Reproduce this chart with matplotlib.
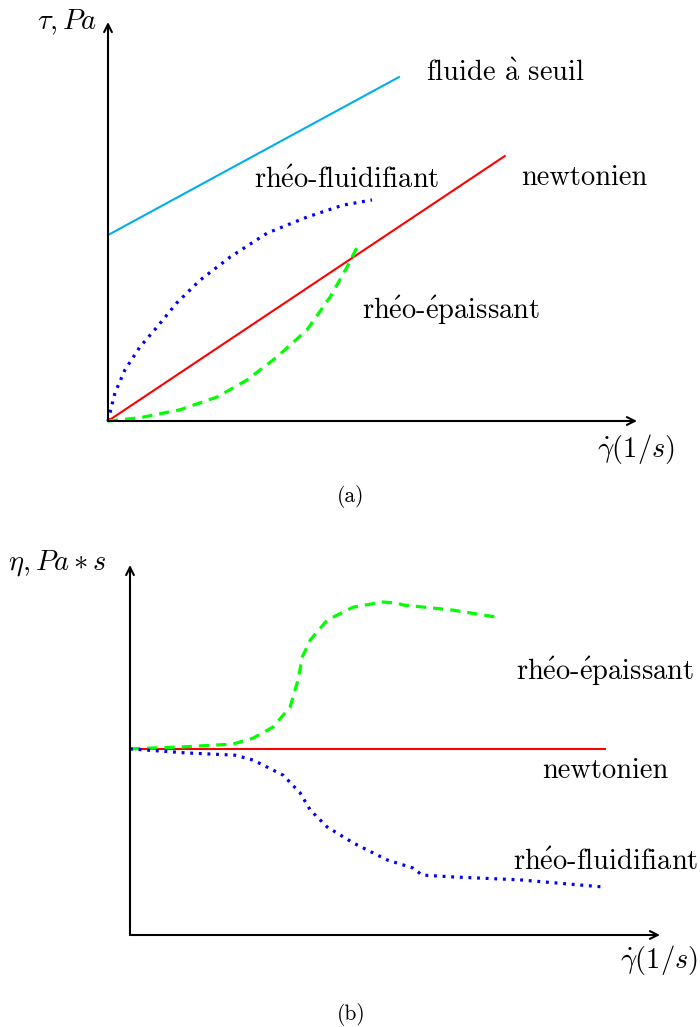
import matplotlib.pyplot as plt

plt.rcParams['mathtext.fontset'] = 'cm'
plt.rcParams['font.family'] = 'cmr10'
plt.rcParams['axes.unicode_minus'] = False

# (a) shear stress vs shear rate, arbitrary units (axes span 0..10)
seuil_x = [0.0, 5.50]
seuil_y = [4.66, 8.62]
newt_a_x = [0.0, 7.50]
newt_a_y = [0.0, 6.64]
fluid_a_x = [0.0, 0.13, 0.32, 0.60, 0.93, 1.30, 1.74, 2.31, 3.01, 3.76, 4.44, 4.99]
fluid_a_y = [0.0, 0.70, 1.28, 1.85, 2.36, 2.96, 3.53, 4.11, 4.71, 5.11, 5.41, 5.54]
epais_a_x = [0.0, 0.60, 1.36, 2.06, 2.63, 3.19, 3.76, 4.20, 4.52, 4.71]
epais_a_y = [0.0, 0.08, 0.28, 0.60, 1.03, 1.60, 2.28, 3.11, 3.86, 4.36]

# (b) viscosity vs shear rate
newt_b_x = [0.0, 8.96]
newt_b_y = [5.03, 5.03]
epais_b_x = [0.0, 0.94, 1.94, 2.32, 2.70, 3.02, 3.17, 3.25, 3.40, 3.72, 4.21, 4.77, 5.04, 5.15, 6.09, 6.92]
epais_b_y = [5.03, 5.08, 5.16, 5.32, 5.62, 6.16, 6.89, 7.51, 7.97, 8.51, 8.86, 9.00, 8.97, 8.92, 8.78, 8.59]
fluid_b_x = [0.0, 1.08, 1.98, 2.32, 2.89, 3.21, 3.40, 3.72, 4.21, 4.85, 5.34, 5.51, 6.09, 7.36, 8.91]
fluid_b_y = [5.03, 4.92, 4.86, 4.73, 4.32, 3.84, 3.38, 2.92, 2.49, 2.03, 1.81, 1.62, 1.57, 1.49, 1.30]

W, H = 700, 1027
fig = plt.figure(figsize=(7, 10.27), dpi=100)

def px(x, y):
    return x / W, 1 - y / H

def make_axes(rect):
    ax = fig.add_axes(rect)
    ax.set_xlim(0, 10)
    ax.set_ylim(0, 10)
    ax.axis('off')
    arrow = dict(arrowstyle='->', color='black', lw=1.5, shrinkA=0, shrinkB=0,
                 mutation_scale=14)
    ax.annotate('', xy=(10, 0), xytext=(0, 0), arrowprops=arrow, annotation_clip=False)
    ax.annotate('', xy=(0, 10), xytext=(0, 0), arrowprops=arrow, annotation_clip=False)
    return ax

red = '#ff0000'
blue = '#0000ff'
green = '#00ff00'
cyan = '#00aeef'
dots = (0, (0.9, 1.8))
dashes = (0, (3.2, 2.2))

ax1 = make_axes([108 / W, 1 - 421 / H, 529 / W, 399 / H])
ax1.plot(seuil_x, seuil_y, color=cyan, lw=1.5, clip_on=False)
ax1.plot(newt_a_x, newt_a_y, color=red, lw=1.5, clip_on=False)
ax1.plot(fluid_a_x, fluid_a_y, color=blue, lw=2.3, ls=dots, clip_on=False)
ax1.plot(epais_a_x, epais_a_y, color=green, lw=2.3, ls=dashes, clip_on=False)

ax2 = make_axes([130 / W, 1 - 935 / H, 530 / W, 370 / H])
ax2.plot(newt_b_x, newt_b_y, color=red, lw=1.5, clip_on=False)
ax2.plot(epais_b_x, epais_b_y, color=green, lw=2.3, ls=dashes, clip_on=False)
ax2.plot(fluid_b_x, fluid_b_y, color=blue, lw=2.3, ls=dots, clip_on=False)

fs = 20.5
def label(x, y, s, ha='left', size=fs):
    fig.text(*px(x, y), s, ha=ha, va='center', fontsize=size)

rheo = r'rh$\mathrm{\acute{e}}$o-'
label(97, 22, r'$\tau, Pa$', ha='right')
label(426, 73, r'fluide $\mathrm{\grave{a}}$ seuil')
label(254, 180, rheo + 'fluidifiant')
label(521, 178, 'newtonien')
label(362, 310, rheo + r'$\mathrm{\acute{e}}$paissant')
label(597, 449, r'$\dot{\gamma}(1/s)$')
label(351, 497, '(a)', ha='center', size=15.5)

label(8, 563, r'$\eta, Pa\ast s$')
label(516, 671, rheo + r'$\mathrm{\acute{e}}$paissant')
label(542, 771, 'newtonien')
label(513, 862, rheo + 'fluidifiant')
label(620, 960, r'$\dot{\gamma}(1/s)$')
label(351, 1014, '(b)', ha='center', size=15.5)

plt.savefig('out.png', dpi=100)
plt.close()
